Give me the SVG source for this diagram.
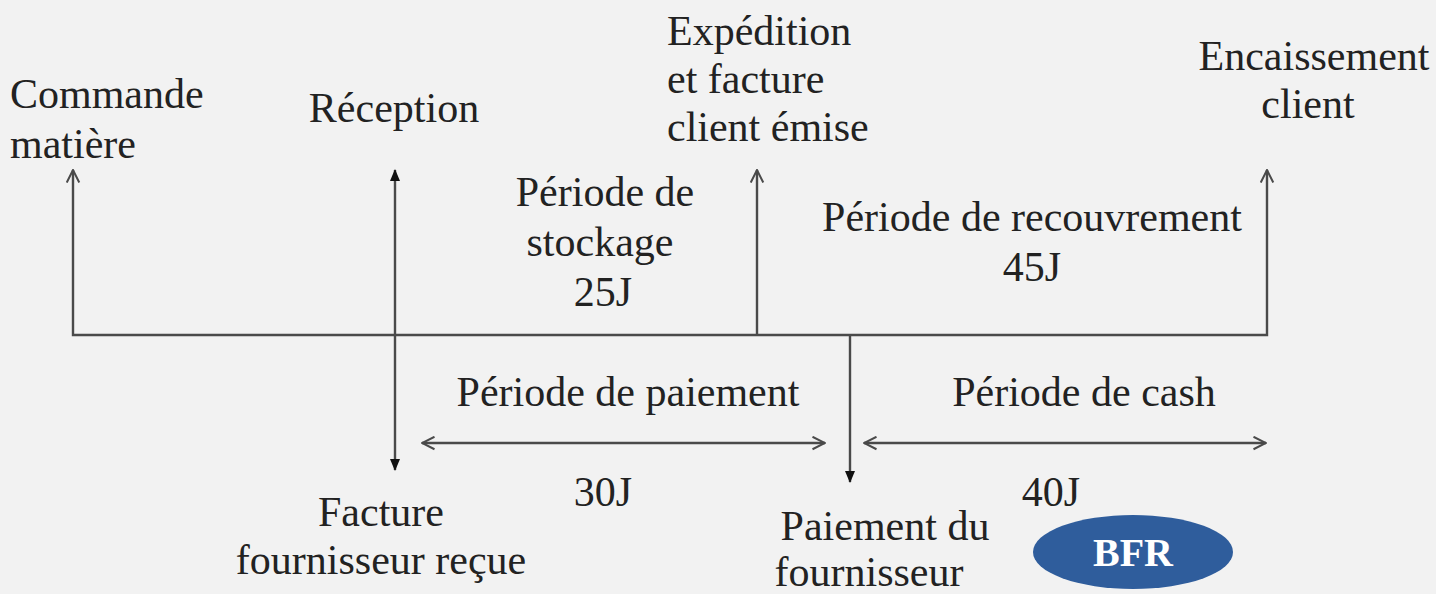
<svg xmlns="http://www.w3.org/2000/svg" width="1436" height="594" viewBox="0 0 1436 594">
<defs>
<marker id="open" viewBox="0 0 12 12" refX="11" refY="6" markerWidth="15" markerHeight="15" markerUnits="userSpaceOnUse" orient="auto-start-reverse">
<path d="M1,1 L11,6 L1,11" fill="none" stroke="#4a4a4a" stroke-width="1.6"/>
</marker>
<marker id="solid" viewBox="0 0 12 12" refX="11" refY="6" markerWidth="12" markerHeight="12" markerUnits="userSpaceOnUse" orient="auto-start-reverse">
<path d="M0,1 L12,6 L0,11 Z" fill="#111"/>
</marker>
</defs>
<style>
.t{font-family:'Liberation Serif','Times New Roman',serif;font-size:42px;fill:#222}
.c{text-anchor:middle}
.ln{stroke:#4a4a4a;stroke-width:2.4;fill:none}
</style>
<rect width="1436" height="594" fill="#f2f2f2"/>
<g id="connectors">
<path class="ln" d="M73,170 L73,335 L1267,335 L1267,170" marker-start="url(#open)" marker-end="url(#open)"/>
<line class="ln" x1="757" y1="335" x2="757" y2="170" marker-end="url(#open)"/>
<line class="ln" x1="395" y1="170" x2="395" y2="470" marker-start="url(#solid)" marker-end="url(#solid)"/>
<line class="ln" x1="850" y1="335" x2="850" y2="482" marker-end="url(#solid)"/>
<line class="ln" x1="422" y1="443" x2="825" y2="443" marker-start="url(#open)" marker-end="url(#open)"/>
<line class="ln" x1="864" y1="443" x2="1266" y2="443" marker-start="url(#open)" marker-end="url(#open)"/>
</g>
<g id="commande"><text class="t" x="10" y="108">Commande</text><text class="t" x="10" y="158">matière</text></g>
<g id="reception"><text class="t c" x="394" y="122">Réception</text></g>
<g id="expedition"><text class="t" x="667" y="45">Expédition</text><text class="t" x="667" y="93">et facture</text><text class="t" x="667" y="141">client émise</text></g>
<g id="encaissement"><text class="t c" x="1314" y="70">Encaissement</text><text class="t c" x="1308" y="118">client</text></g>
<g id="stockage"><text class="t c" x="605" y="206">Période de</text><text class="t c" x="600" y="256">stockage</text><text class="t c" x="603" y="306">25J</text></g>
<g id="recouvrement"><text class="t c" x="1032" y="231">Période de recouvrement</text><text class="t c" x="1032" y="281">45J</text></g>
<g id="paiement-periode"><text class="t c" x="628" y="406">Période de paiement</text><text class="t c" x="603" y="506">30J</text></g>
<g id="cash"><text class="t c" x="1084" y="406">Période de cash</text><text class="t c" x="1051" y="506">40J</text></g>
<g id="facture"><text class="t c" x="381" y="526">Facture</text><text class="t c" x="381" y="574">fournisseur reçue</text></g>
<g id="paiement-fournisseur"><text class="t c" x="885" y="540">Paiement du</text><text class="t c" x="869" y="586">fournisseur</text></g>
<g id="bfr"><ellipse cx="1133" cy="552" rx="100" ry="37" fill="#2f5d9c"/><text class="c" x="1133" y="566" font-family="'Liberation Serif',serif" font-weight="bold" font-size="40" fill="#fff">BFR</text></g>
</svg>
